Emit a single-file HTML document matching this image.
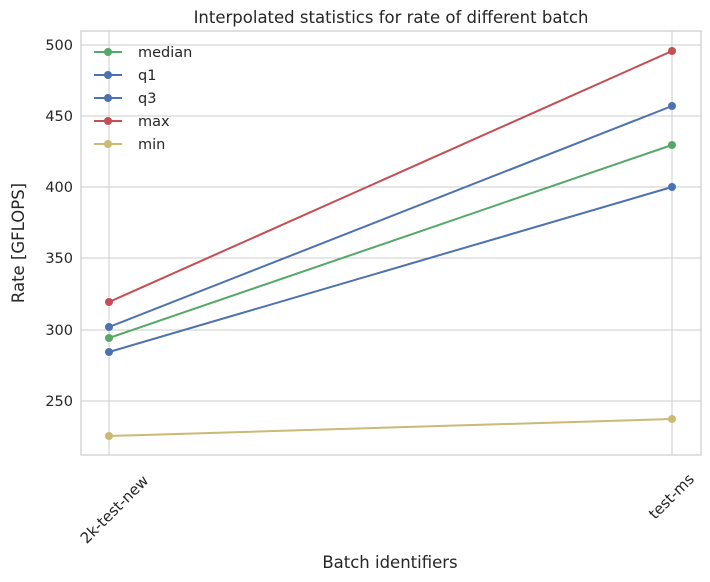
<!DOCTYPE html>
<html><head><meta charset="utf-8"><style>
body{margin:0;background:#fff;}
svg{display:block;font-family:"DejaVu Sans","Liberation Sans",sans-serif;}
</style></head><body>
<svg width="710" height="582" xmlns="http://www.w3.org/2000/svg">
<rect width="710" height="582" fill="#fff"/>
<g stroke="#cccccc" stroke-width="1">
<line x1="81" x2="701" y1="45" y2="45"/>
<line x1="81" x2="701" y1="116" y2="116"/>
<line x1="81" x2="701" y1="187" y2="187"/>
<line x1="81" x2="701" y1="258" y2="258"/>
<line x1="81" x2="701" y1="330" y2="330"/>
<line x1="81" x2="701" y1="401" y2="401"/>
<line x1="109" x2="109" y1="31" y2="455"/>
<line x1="672" x2="672" y1="31" y2="455"/>
</g>
<rect x="81" y="31" width="620" height="424" fill="none" stroke="#cccccc" stroke-width="1.2"/>
<g font-size="14.5" fill="#262626" text-anchor="end">
<text x="73" y="50">500</text>
<text x="73" y="121">450</text>
<text x="73" y="192">400</text>
<text x="73" y="263">350</text>
<text x="73" y="335">300</text>
<text x="73" y="406">250</text>
</g>
<g font-size="15" fill="#262626" text-anchor="middle">
<text transform="translate(118,513) rotate(-45)">2k-test-new</text>
<text transform="translate(675,500) rotate(-45)">test-ms</text>
</g>
<text x="390" y="568" font-size="16.5" fill="#262626" text-anchor="middle">Batch identifiers</text>
<text transform="translate(24,243) rotate(-90)" font-size="16.5" fill="#262626" text-anchor="middle">Rate [GFLOPS]</text>
<text x="391" y="23" font-size="16.5" fill="#262626" text-anchor="middle">Interpolated statistics for rate of different batch</text>
<g stroke-width="2">
<line x1="109" y1="338" x2="672" y2="145" stroke="#55a868"/>
<line x1="109" y1="352" x2="672" y2="187" stroke="#4c72b0"/>
<line x1="109" y1="327" x2="672" y2="106" stroke="#4c72b0"/>
<line x1="109" y1="302" x2="672" y2="51" stroke="#c44e52"/>
<line x1="109" y1="436" x2="672" y2="419" stroke="#ccb974"/>
</g>
<g>
<circle cx="109" cy="338" r="4" fill="#55a868"/><circle cx="672" cy="145" r="4" fill="#55a868"/>
<circle cx="109" cy="352" r="4" fill="#4c72b0"/><circle cx="672" cy="187" r="4" fill="#4c72b0"/>
<circle cx="109" cy="327" r="4" fill="#4c72b0"/><circle cx="672" cy="106" r="4" fill="#4c72b0"/>
<circle cx="109" cy="302" r="4" fill="#c44e52"/><circle cx="672" cy="51" r="4" fill="#c44e52"/>
<circle cx="109" cy="436" r="4" fill="#ccb974"/><circle cx="672" cy="419" r="4" fill="#ccb974"/>
</g>
<g font-size="14.5" fill="#262626">
<line x1="94" x2="122" y1="52" y2="52" stroke="#55a868" stroke-width="2"/><circle cx="108" cy="52" r="4" fill="#55a868"/><text x="138" y="57">median</text>
<line x1="94" x2="122" y1="75" y2="75" stroke="#4c72b0" stroke-width="2"/><circle cx="108" cy="75" r="4" fill="#4c72b0"/><text x="138" y="80">q1</text>
<line x1="94" x2="122" y1="98" y2="98" stroke="#4c72b0" stroke-width="2"/><circle cx="108" cy="98" r="4" fill="#4c72b0"/><text x="138" y="103">q3</text>
<line x1="94" x2="122" y1="121" y2="121" stroke="#c44e52" stroke-width="2"/><circle cx="108" cy="121" r="4" fill="#c44e52"/><text x="138" y="126">max</text>
<line x1="94" x2="122" y1="144" y2="144" stroke="#ccb974" stroke-width="2"/><circle cx="108" cy="144" r="4" fill="#ccb974"/><text x="138" y="149">min</text>
</g>
</svg>
</body></html>
